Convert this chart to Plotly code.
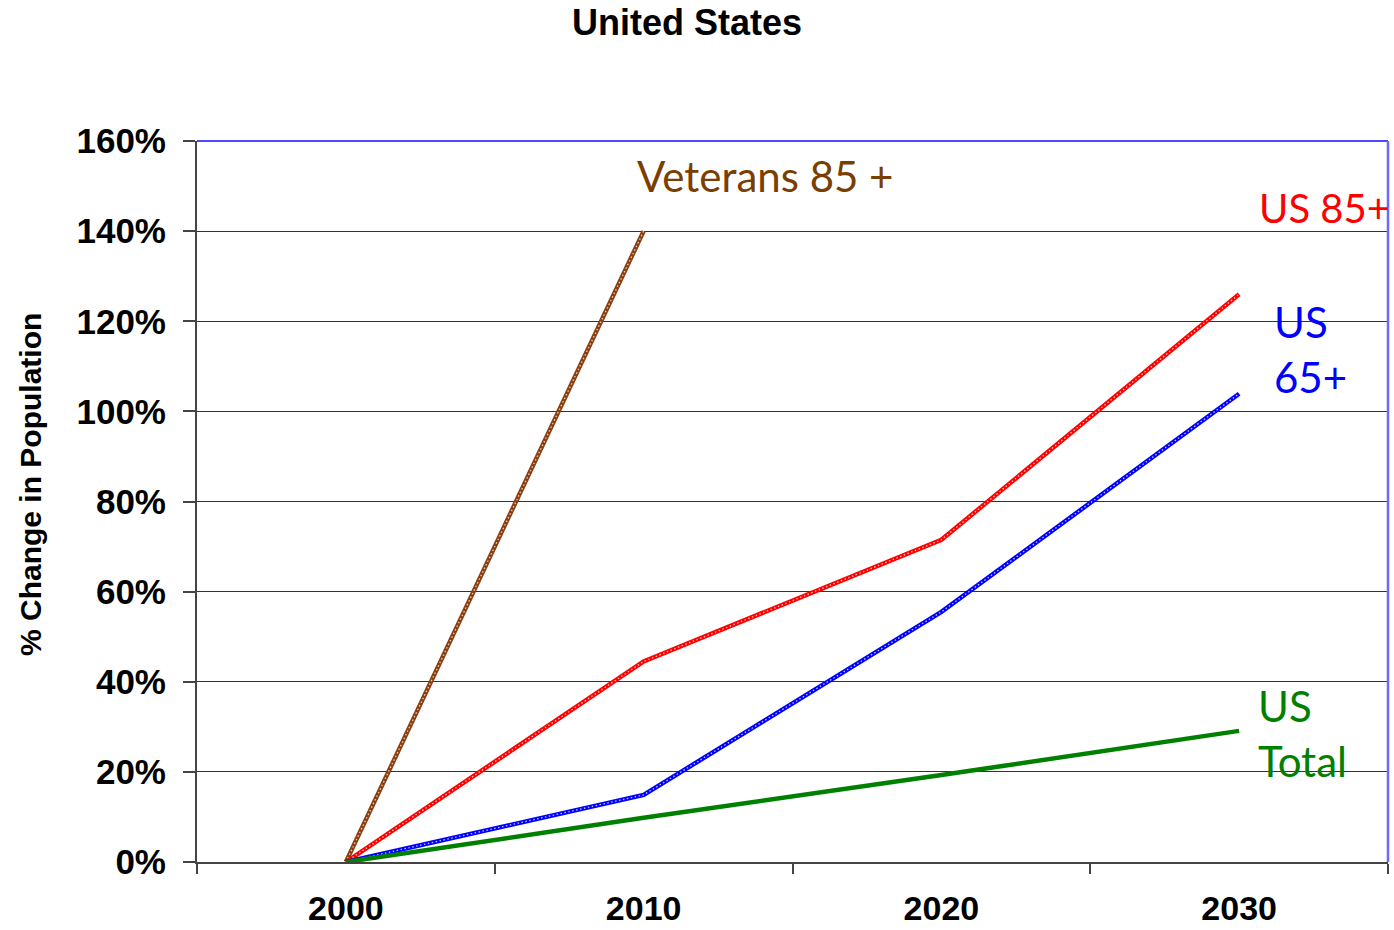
import plotly.graph_objects as go

# Percent change in population relative to 2000
years = ["2000", "2010", "2020", "2030"]
veterans_85 = [0, 140]
us_85 = [0, 44.5, 71.5, 126]
us_65 = [0, 14.9, 55.5, 103.9]
us_total = [0, 9.8, 19.3, 29.1]

y_ticks = [0, 20, 40, 60, 80, 100, 120, 140, 160]
y_tick_text = [f"{v}%" for v in y_ticks]

# plot area in page pixels
PL, PR, PT, PB = 197, 1388, 141, 862

fig = go.Figure()

series = [
    (years[:2], veterans_85, "#8B3E10", True),
    (years, us_85, "#FF0000", True),
    (years, us_65, "#0000FF", True),
    (years, us_total, "#008000", False),
]

for xs, ys, color, textured in series:
    fig.add_trace(go.Scatter(
        x=xs, y=ys, mode="lines",
        line=dict(color=color, width=4.5),
        hoverinfo="skip",
    ))
    if textured:
        # speckled fill of the printed line
        fig.add_trace(go.Scatter(
            x=xs, y=ys, mode="lines",
            line=dict(color="rgba(255,255,255,0.75)", width=1.3, dash="1.5px,2.5px"),
            hoverinfo="skip",
        ))


def px_x(x):
    return (x - PL) / (PR - PL)


def px_y(y):
    return (PB - y) / (PB - PT)


label_font = "Lato, 'Open Sans', sans-serif"
arial = "Arial, 'Liberation Sans', sans-serif"

series_labels = [
    ("Veterans 85 +", "#7A3E00", 765, 176, "center", 42),
    ("US 85+", "#FF0000", 1257, 208, "left", 40),
    ("US<br>65+", "#0000FF", 1272, 349, "left", 42),
    ("US<br>Total", "#008000", 1256, 733, "left", 42),
]
annotations = []
for text, color, x, y, anchor, size in series_labels:
    annotations.append(dict(
        text=text, x=px_x(x), y=px_y(y), xref="paper", yref="paper",
        xanchor=anchor, yanchor="middle", align="left", showarrow=False,
        font=dict(family=label_font, size=size, color=color),
    ))

annotations.append(dict(
    text="<b>United States</b>", x=px_x(687), y=px_y(22), xref="paper", yref="paper",
    showarrow=False, xanchor="center", yanchor="middle",
    font=dict(family=arial, size=36, color="black"),
))
annotations.append(dict(
    text="<b>% Change in Population</b>", x=px_x(30), y=px_y(485),
    xref="paper", yref="paper", textangle=-90,
    showarrow=False, xanchor="center", yanchor="middle",
    font=dict(family=arial, size=30, color="black"),
))

fig.update_layout(
    width=1394, height=930,
    margin=dict(l=PL, r=1394 - PR, t=PT, b=930 - PB),
    paper_bgcolor="white", plot_bgcolor="white",
    showlegend=False,
    annotations=annotations,
    font=dict(family=arial, color="black"),
    shapes=[
        dict(type="line", xref="paper", yref="paper", x0=0, x1=1, y0=1, y1=1,
             line=dict(color="#4A4AFF", width=2)),
        dict(type="line", xref="paper", yref="paper", x0=1, x1=1, y0=0, y1=1,
             line=dict(color="#6A6AFF", width=2.5)),
    ],
)

fig.update_xaxes(
    type="category", range=[-0.5, 3.5], automargin=False,
    tickson="boundaries", ticks="outside", ticklen=10, tickwidth=2, tickcolor="#444",
    showline=True, linecolor="#444", linewidth=2,
    showgrid=False, zeroline=False,
    tickfont=dict(size=34, family=arial),
    ticklabelstandoff=15,
    tickprefix="<b>", ticksuffix="</b>",
)
fig.update_yaxes(
    range=[0, 160], tickvals=y_ticks, ticktext=[f"<b>{t}</b>" for t in y_tick_text],
    automargin=False,
    ticks="outside", ticklen=12, tickwidth=1.5, tickcolor="#444",
    showline=True, linecolor="#444", linewidth=2,
    showgrid=True, gridcolor="#333", gridwidth=1.3, zeroline=False,
    tickfont=dict(size=35, family=arial),
    ticklabelstandoff=10,
)

fig.write_html("out.html")
